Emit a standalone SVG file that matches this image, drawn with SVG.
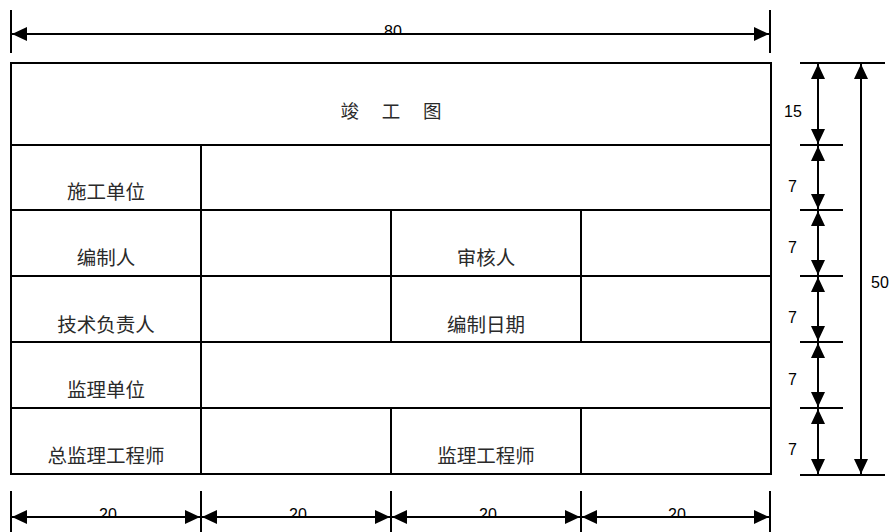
<svg xmlns="http://www.w3.org/2000/svg" width="893" height="532" viewBox="0 0 893 532">
<style>
.cell{fill:none;stroke:#000;stroke-width:2}
.lbl{font-family:"Noto Sans CJK SC","Liberation Sans",sans-serif;font-size:19.5px;fill:#2a2a2a;text-anchor:middle}
.ttl{font-family:"Noto Sans CJK SC","Liberation Sans",sans-serif;font-size:18.5px;fill:#2a2a2a;text-anchor:middle}
.dim{stroke:#000;stroke-width:2;fill:none}
.dimline{stroke:#000;stroke-width:2;fill:none;marker-start:url(#arr);marker-end:url(#arr)}
.num{font-family:"Liberation Sans",Arial,sans-serif;font-size:16px;fill:#000}
.numc{font-family:"Liberation Sans",Arial,sans-serif;font-size:16px;fill:#000;text-anchor:middle}
</style>
<defs>
<marker id="arr" markerUnits="userSpaceOnUse" markerWidth="15" markerHeight="14" refX="15" refY="7" orient="auto-start-reverse" viewBox="0 0 15 14">
<path d="M0,0 L15,7 L0,14 z" fill="#000"/>
</marker>
<clipPath id="cTop"><rect x="0" y="0" width="893" height="33"/></clipPath>
<clipPath id="cBot"><rect x="0" y="480" width="893" height="36"/></clipPath>
</defs>
<rect width="893" height="532" fill="#fff"/>

<g id="title-cell"><rect class="cell" x="11" y="63" width="760" height="82"/><text class="ttl" x="391" y="118">竣　 工　 图</text></g>
<g id="row1-label"><rect class="cell" x="11" y="145" width="190" height="65"/><text class="lbl" x="106" y="199">施工单位</text></g>
<g id="row1-value"><rect class="cell" x="201" y="145" width="570" height="65"/></g>
<g id="row2-label"><rect class="cell" x="11" y="210" width="190" height="66"/><text class="lbl" x="106" y="265">编制人</text></g>
<g id="row2-value"><rect class="cell" x="201" y="210" width="190" height="66"/></g>
<g id="row2-label2"><rect class="cell" x="391" y="210" width="190" height="66"/><text class="lbl" x="486" y="265">审核人</text></g>
<g id="row2-value2"><rect class="cell" x="581" y="210" width="190" height="66"/></g>
<g id="row3-label"><rect class="cell" x="11" y="276" width="190" height="66"/><text class="lbl" x="106" y="332">技术负责人</text></g>
<g id="row3-value"><rect class="cell" x="201" y="276" width="190" height="66"/></g>
<g id="row3-label2"><rect class="cell" x="391" y="276" width="190" height="66"/><text class="lbl" x="486" y="332">编制日期</text></g>
<g id="row3-value2"><rect class="cell" x="581" y="276" width="190" height="66"/></g>
<g id="row4-label"><rect class="cell" x="11" y="342" width="190" height="66"/><text class="lbl" x="106" y="397">监理单位</text></g>
<g id="row4-value"><rect class="cell" x="201" y="342" width="570" height="66"/></g>
<g id="row5-label"><rect class="cell" x="11" y="408" width="190" height="66"/><text class="lbl" x="106" y="463">总监理工程师</text></g>
<g id="row5-value"><rect class="cell" x="201" y="408" width="190" height="66"/></g>
<g id="row5-label2"><rect class="cell" x="391" y="408" width="190" height="66"/><text class="lbl" x="486" y="463">监理工程师</text></g>
<g id="row5-value2"><rect class="cell" x="581" y="408" width="190" height="66"/></g>

<g id="connectors">
<line class="dim" x1="11" y1="10" x2="11" y2="53"/>
<line class="dim" x1="770" y1="10" x2="770" y2="53"/>
<line class="dimline" x1="12" y1="34" x2="769" y2="34"/>
<text class="numc" x="393" y="37" clip-path="url(#cTop)">80</text>

<line class="dim" x1="800" y1="63" x2="885" y2="63"/>
<line class="dim" x1="800" y1="145" x2="843" y2="145"/>
<line class="dim" x1="800" y1="210" x2="843" y2="210"/>
<line class="dim" x1="800" y1="276" x2="843" y2="276"/>
<line class="dim" x1="800" y1="342" x2="843" y2="342"/>
<line class="dim" x1="800" y1="408" x2="843" y2="408"/>
<line class="dim" x1="800" y1="475" x2="885" y2="475"/>
<line class="dimline" x1="818" y1="64" x2="818" y2="144"/>
<line class="dimline" x1="818" y1="146" x2="818" y2="209"/>
<line class="dimline" x1="818" y1="211" x2="818" y2="275"/>
<line class="dimline" x1="818" y1="277" x2="818" y2="341"/>
<line class="dimline" x1="818" y1="343" x2="818" y2="407"/>
<line class="dimline" x1="818" y1="409" x2="818" y2="474"/>
<line class="dimline" x1="861" y1="64" x2="861" y2="474"/>
<text class="num" x="784" y="117">15</text>
<text class="num" x="788" y="192">7</text>
<text class="num" x="788" y="253">7</text>
<text class="num" x="788" y="323">7</text>
<text class="num" x="788" y="385">7</text>
<text class="num" x="788" y="455">7</text>
<text class="num" x="871" y="288">50</text>

<line class="dim" x1="11" y1="491" x2="11" y2="532"/>
<line class="dim" x1="201" y1="491" x2="201" y2="532"/>
<line class="dim" x1="391" y1="491" x2="391" y2="532"/>
<line class="dim" x1="581" y1="491" x2="581" y2="532"/>
<line class="dim" x1="770" y1="491" x2="770" y2="532"/>
<line class="dimline" x1="12" y1="517" x2="200" y2="517"/>
<line class="dimline" x1="202" y1="517" x2="390" y2="517"/>
<line class="dimline" x1="392" y1="517" x2="580" y2="517"/>
<line class="dimline" x1="582" y1="517" x2="769" y2="517"/>
<text class="numc" x="108" y="520" clip-path="url(#cBot)">20</text>
<text class="numc" x="298" y="520" clip-path="url(#cBot)">20</text>
<text class="numc" x="488" y="520" clip-path="url(#cBot)">20</text>
<text class="numc" x="677" y="520" clip-path="url(#cBot)">20</text>
</g>
</svg>
